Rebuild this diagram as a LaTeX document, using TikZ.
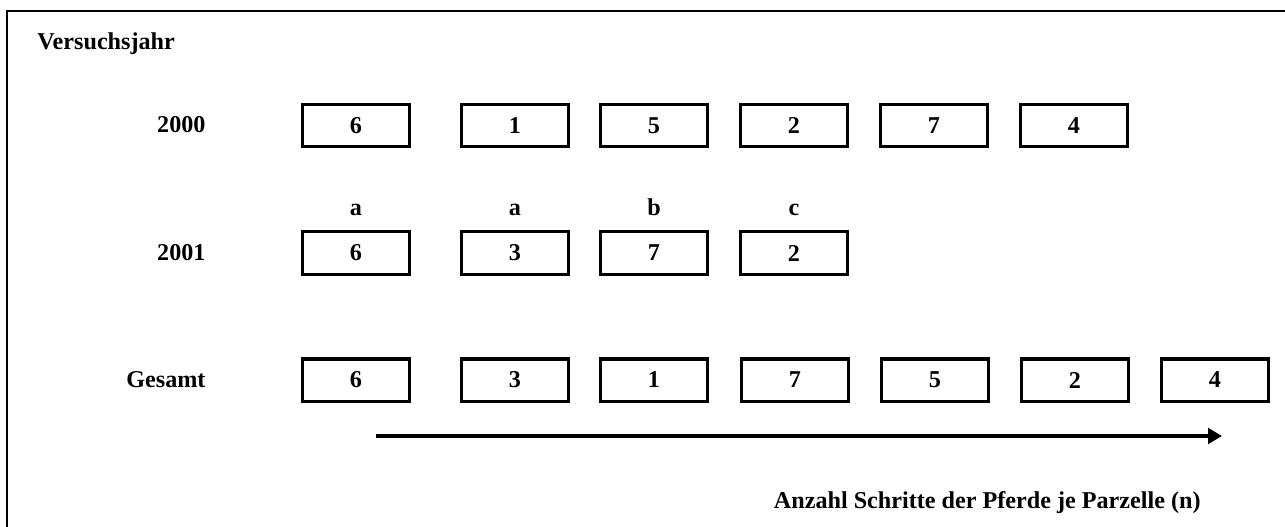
\documentclass[tikz,border=0pt]{standalone}
\usepackage{fontspec}
\setmainfont{Liberation Serif}
\usetikzlibrary{arrows.meta}
\begin{document}
\begin{tikzpicture}[
        x=0.414pt, y=-0.414pt,
        box/.style={
            rectangle,
            draw,
            line width=1.25pt,
            minimum width=44.3pt,
            minimum height=17.4pt,
            inner sep=0pt,
            font=\bfseries
        },
        lbl/.style={
            font=\bfseries,
            inner sep=0pt
        }
    ]
    \useasboundingbox (0,0) rectangle (1285,526);

    % Frame
    \draw[line width=0.8pt] (7,530) -- (7,11) -- (1290,11);

    % Row labels
    \node[lbl, anchor=base west] (title) at (37,50) {Versuchsjahr};
    \node[lbl, anchor=base east] (y2000) at (206,133) {2000};
    \node[lbl, anchor=base east] (y2001) at (206,260) {2001};
    \node[lbl, anchor=base east] (total) at (206,387) {Gesamt};

    % Boxes 2000
    \node[box] (A1) at (356,125.5) {6};
    \node[box] (A2) at (515,125.5) {1};
    \node[box] (A3) at (654,125.5) {5};
    \node[box] (A4) at (794,125.5) {2};
    \node[box] (A5) at (934,125.5) {7};
    \node[box] (A6) at (1074,125.5) {4};

    % Boxes 2001
    \node[box] (B1) at (356,253) {6};
    \node[box] (B2) at (515,253) {3};
    \node[box] (B3) at (654,253) {7};
    \node[box] (B4) at (794,253) {2};

    % Letters
    \node[lbl, anchor=base] (L1) at (356,215) {a};
    \node[lbl, anchor=base] (L2) at (515,215) {a};
    \node[lbl, anchor=base] (L3) at (654,215) {b};
    \node[lbl, anchor=base] (L4) at (794,215) {c};

    % Boxes Gesamt
    \node[box] (C1) at (356,380) {6};
    \node[box] (C2) at (515,380) {3};
    \node[box] (C3) at (654,380) {1};
    \node[box] (C4) at (795,380) {7};
    \node[box] (C5) at (935,380) {5};
    \node[box] (C6) at (1075,380) {2};
    \node[box] (C7) at (1215,380) {4};

    % Arrow
    \coordinate (start) at (376,436);
    \coordinate (end) at (1222,436);
    \draw[line width=1.5pt, -{Triangle[length=5.8pt,width=6.4pt]}] (start) -- (end);

    \node[lbl, anchor=base east] (axis) at (1201,508) {Anzahl Schritte der Pferde je Parzelle (n)};

\end{tikzpicture}
\end{document}
